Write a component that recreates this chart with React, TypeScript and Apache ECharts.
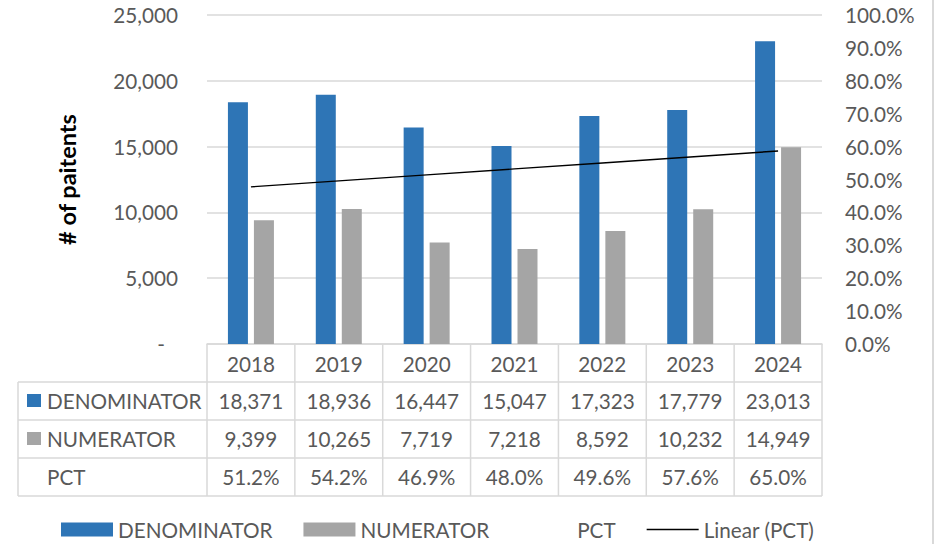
import React, { useEffect, useRef } from 'react';
import * as echarts from 'echarts';

const years = ['2018', '2019', '2020', '2021', '2022', '2023', '2024'];
const denominator = [18371, 18936, 16447, 15047, 17323, 17779, 23013];
const numerator = [9399, 10265, 7719, 7218, 8592, 10232, 14949];
const pct = [51.2, 54.2, 46.9, 48.0, 49.6, 57.6, 65.0];
const leftAxis = { min: 0, max: 25000, interval: 5000 };
const rightAxis = { min: 0, max: 100, interval: 10 };

const FONT = 'Lato, "Noto Sans", sans-serif';
const FS = 20.7;
const TEXT = '#595959';
const LINE_C = '#d9d9d9';
const BLUE = '#2E75B6';
const GRAY = '#A5A5A5';

function fmtInt(v: number): string {
  return String(Math.round(v)).replace(/\B(?=(\d{3})+(?!\d))/g, ',');
}

// least-squares linear trend of the PCT series (Excel "Linear" trendline)
function linearTrend(vals: number[]): number[] {
  const n = vals.length;
  const xs = vals.map((_, i) => i + 1);
  const mx = xs.reduce((a, b) => a + b, 0) / n;
  const my = vals.reduce((a, b) => a + b, 0) / n;
  let sxy = 0;
  let sxx = 0;
  for (let i = 0; i < n; i++) {
    sxy += (xs[i] - mx) * (vals[i] - my);
    sxx += (xs[i] - mx) * (xs[i] - mx);
  }
  const slope = sxy / sxx;
  return xs.map((x) => +(my + slope * (x - mx)).toFixed(3));
}

export default function App() {
  const ref = useRef<HTMLDivElement>(null);

  useEffect(() => {
    if (!ref.current) return;
    const chart = echarts.init(ref.current, null, { renderer: 'svg' });
    const trend = linearTrend(pct);

    const option: any = {
      animation: false,
      textStyle: { fontFamily: FONT },
      grid: { left: 207, right: 116, top: 15, bottom: 200 },
      legend: {
        left: 61,
        top: 519,
        padding: 0,
        itemWidth: 52,
        itemHeight: 14,
        itemGap: 31,
        selectedMode: false,
        textStyle: { fontFamily: FONT, fontSize: FS, color: TEXT },
        data: [
          { name: 'DENOMINATOR', icon: 'rect' },
          { name: 'NUMERATOR', icon: 'rect' },
          { name: 'PCT', icon: 'none' },
          { name: 'Linear (PCT)', icon: 'path://M0,0H52V1.4H0Z' },
        ],
      },
      xAxis: {
        type: 'category',
        data: years,
        axisLine: { lineStyle: { color: LINE_C, width: 1.5 } },
        axisTick: { show: false },
        axisLabel: {
          fontFamily: FONT,
          fontSize: FS,
          color: TEXT,
          margin: 20,
          verticalAlign: 'middle',
        },
      },
      yAxis: [
        {
          type: 'value',
          min: leftAxis.min,
          max: leftAxis.max,
          interval: leftAxis.interval,
          name: '# of paitents',
          nameLocation: 'middle',
          nameGap: 128,
          nameTextStyle: { fontFamily: FONT, fontSize: 23.5, fontWeight: 'bold', color: '#000' },
          axisLine: { show: false },
          axisTick: { show: false },
          splitLine: { lineStyle: { color: LINE_C, width: 1.5 } },
          axisLabel: {
            fontFamily: FONT,
            fontSize: FS,
            color: TEXT,
            margin: 29,
            formatter: (v: number) => (v === 0 ? '{d|-}' : fmtInt(v)),
            rich: { d: { fontFamily: FONT, fontSize: FS, color: TEXT, padding: [0, 13, 0, 0] } },
          },
        },
        {
          type: 'value',
          min: rightAxis.min,
          max: rightAxis.max,
          interval: rightAxis.interval,
          position: 'right',
          axisLine: { show: false },
          axisTick: { show: false },
          splitLine: { show: false },
          axisLabel: {
            fontFamily: FONT,
            fontSize: FS,
            color: TEXT,
            margin: 23,
            formatter: (v: number) => v.toFixed(1) + '%',
          },
        },
      ],
      series: [
        {
          name: 'DENOMINATOR',
          type: 'bar',
          data: denominator,
          barWidth: 20,
          barGap: '30%',
          itemStyle: { color: BLUE },
        },
        {
          name: 'NUMERATOR',
          type: 'bar',
          data: numerator,
          barWidth: 20,
          barGap: '30%',
          itemStyle: { color: GRAY },
        },
        {
          name: 'PCT',
          type: 'line',
          yAxisIndex: 1,
          data: pct,
          symbol: 'none',
          lineStyle: { width: 0, opacity: 0 },
          itemStyle: { color: '#ffffff', opacity: 0 },
          silent: true,
        },
        {
          name: 'Linear (PCT)',
          type: 'line',
          yAxisIndex: 1,
          data: trend,
          symbol: 'none',
          color: '#000000',
          itemStyle: { color: '#000000' },
          lineStyle: { color: '#000000', width: 1.4 },
          z: 5,
        },
      ],
    };

    chart.setOption(option);

    // data table under the plot, positioned from the category axis
    const centers = years.map((y) => chart.convertToPixel({ xAxisIndex: 0 }, y) as number);
    const catW = centers[1] - centers[0];
    const bounds = [centers[0] - catW / 2, ...centers.map((c) => c + catW / 2)];
    const axisY = chart.convertToPixel({ yAxisIndex: 0 }, 0) as number;
    const tableLeft = 18;
    const rowLines = [382, 420, 458, 496];
    const tableBottom = rowLines[rowLines.length - 1];
    const right = bounds[bounds.length - 1];

    const rows = [
      { name: 'DENOMINATOR', color: BLUE, values: denominator.map(fmtInt) },
      { name: 'NUMERATOR', color: GRAY, values: numerator.map(fmtInt) },
      { name: 'PCT', color: null as string | null, values: pct.map((v) => v.toFixed(1) + '%') },
    ];

    const els: any[] = [];
    const ls = { stroke: LINE_C, lineWidth: 1.5 };
    rowLines.forEach((y) => {
      els.push({ type: 'line', shape: { x1: tableLeft, y1: y, x2: right, y2: y }, style: ls, silent: true });
    });
    els.push({ type: 'line', shape: { x1: tableLeft, y1: rowLines[0], x2: tableLeft, y2: tableBottom }, style: ls, silent: true });
    bounds.forEach((x) => {
      els.push({ type: 'line', shape: { x1: x, y1: axisY, x2: x, y2: tableBottom }, style: ls, silent: true });
    });
    rows.forEach((r, ri) => {
      const cy = (rowLines[ri] + rowLines[ri + 1]) / 2;
      if (r.color) {
        els.push({ type: 'rect', shape: { x: 27, y: cy - 7, width: 14, height: 13 }, style: { fill: r.color }, silent: true });
      }
      els.push({
        type: 'text',
        x: 47,
        y: cy,
        style: { text: r.name, fontFamily: FONT, fontSize: FS, fill: TEXT, verticalAlign: 'middle', align: 'left' },
        silent: true,
      });
      r.values.forEach((t, ci) => {
        els.push({
          type: 'text',
          x: centers[ci],
          y: cy,
          style: { text: t, fontFamily: FONT, fontSize: FS, fill: TEXT, verticalAlign: 'middle', align: 'center' },
          silent: true,
        });
      });
    });
    // chart area right border
    els.push({ type: 'line', shape: { x1: 933, y1: 0, x2: 933, y2: 544 }, style: { stroke: LINE_C, lineWidth: 2 }, silent: true });

    chart.setOption({ graphic: { elements: els } });

    return () => chart.dispose();
  }, []);

  return (
    <div
      ref={ref}
      style={{ position: 'absolute', left: 0, top: 0, width: 938, height: 544, background: '#ffffff' }}
    />
  );
}
